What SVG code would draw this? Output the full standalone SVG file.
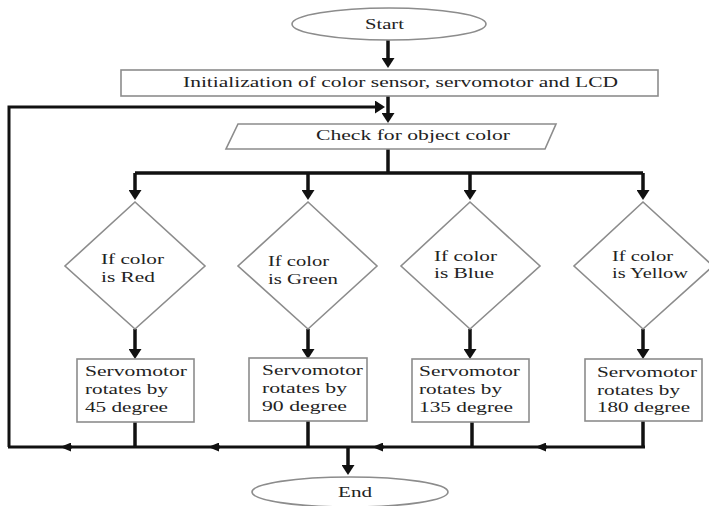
<svg xmlns="http://www.w3.org/2000/svg" width="709" height="506" viewBox="0 0 709 506">
<style>
.shape{fill:#fff;stroke:#8c8c8c;stroke-width:1.6}
.t{font-family:"Liberation Serif","Times New Roman",serif;font-size:15px;fill:#222}
.c{fill:none;stroke:#111;stroke-width:3.5;stroke-linejoin:miter}
.thin{fill:none;stroke:#111;stroke-width:3}
</style>
<defs>
<marker id="ah" viewBox="0 0 10 10" refX="2" refY="5" markerWidth="10" markerHeight="13" markerUnits="userSpaceOnUse" orient="auto" preserveAspectRatio="none">
<path d="M0,0 L10,5 L0,10 z" fill="#111"/>
</marker>
<marker id="sm" viewBox="0 0 10 10" refX="2" refY="5" markerWidth="11" markerHeight="9" markerUnits="userSpaceOnUse" orient="auto" preserveAspectRatio="none">
<path d="M0,0 L10,5 L0,10 z" fill="#111"/>
</marker>
</defs>
<rect width="709" height="506" fill="#fff"/>

<g id="connectors">
<path class="c" d="M388 40 V60" marker-end="url(#ah)"/>
<path class="c" d="M388 96 V115" marker-end="url(#ah)"/>
<path class="thin" d="M9 447 V107 H377" marker-end="url(#ah)"/>
<path class="c" d="M388 149 V173"/>
<path class="c" d="M135 173 H643"/>
<path class="c" d="M135 173 V192" marker-end="url(#ah)"/>
<path class="c" d="M308 173 V192" marker-end="url(#ah)"/>
<path class="c" d="M470 173 V192" marker-end="url(#ah)"/>
<path class="c" d="M643 173 V192" marker-end="url(#ah)"/>
<path class="c" d="M135 329 V351" marker-end="url(#ah)"/>
<path class="c" d="M308 329 V351" marker-end="url(#ah)"/>
<path class="c" d="M470 329 V351" marker-end="url(#ah)"/>
<path class="c" d="M643 329 V351" marker-end="url(#ah)"/>
<path class="c" d="M135 422 V447"/>
<path class="c" d="M308 421 V447"/>
<path class="c" d="M472 422 V447"/>
<path class="c" d="M643 421 V447"/>
<path class="thin" d="M8 447 H645"/>
<path class="thin" d="M72 447 H69" marker-end="url(#sm)"/>
<path class="thin" d="M220 447 H217" marker-end="url(#sm)"/>
<path class="thin" d="M384 447 H381" marker-end="url(#sm)"/>
<path class="thin" d="M547 447 H544" marker-end="url(#sm)"/>
<path class="c" d="M348 447 V467" marker-end="url(#ah)"/>
</g>

<g id="start">
<ellipse class="shape" cx="389" cy="24" rx="97" ry="16"/>
<text class="t" x="365" y="29" textLength="39" lengthAdjust="spacingAndGlyphs">Start</text>
</g>

<g id="init">
<rect class="shape" x="121" y="70" width="537" height="26"/>
<text class="t" x="183" y="87" textLength="435" lengthAdjust="spacingAndGlyphs">Initialization of color sensor, servomotor and LCD</text>
</g>

<g id="check">
<polygon class="shape" points="238,124 556,124 545,149 226,149"/>
<text class="t" x="316" y="140" textLength="194" lengthAdjust="spacingAndGlyphs">Check for object color</text>
</g>

<g id="dec-red">
<polygon class="shape" points="135,202 205,266 135,329 65,266"/>
<text class="t" x="101" y="264" textLength="63" lengthAdjust="spacingAndGlyphs">If color</text>
<text class="t" x="101" y="282" textLength="54" lengthAdjust="spacingAndGlyphs">is Red</text>
</g>

<g id="dec-green">
<polygon class="shape" points="308,202 377,266 308,329 238,266"/>
<text class="t" x="268" y="266" textLength="61" lengthAdjust="spacingAndGlyphs">If color</text>
<text class="t" x="268" y="284" textLength="70" lengthAdjust="spacingAndGlyphs">is Green</text>
</g>

<g id="dec-blue">
<polygon class="shape" points="470,202 540,266 470,329 401,266"/>
<text class="t" x="434" y="261" textLength="63" lengthAdjust="spacingAndGlyphs">If color</text>
<text class="t" x="434" y="278" textLength="60" lengthAdjust="spacingAndGlyphs">is Blue</text>
</g>

<g id="dec-yellow">
<polygon class="shape" points="643,202 713,266 643,329 574,266"/>
<text class="t" x="612" y="261" textLength="61" lengthAdjust="spacingAndGlyphs">If color</text>
<text class="t" x="612" y="278" textLength="76" lengthAdjust="spacingAndGlyphs">is Yellow</text>
</g>

<g id="act-45">
<rect class="shape" x="77" y="359" width="117" height="63"/>
<text class="t" x="85" y="376" textLength="102" lengthAdjust="spacingAndGlyphs">Servomotor</text>
<text class="t" x="85" y="394" textLength="83" lengthAdjust="spacingAndGlyphs">rotates by</text>
<text class="t" x="85" y="412" textLength="83" lengthAdjust="spacingAndGlyphs">45 degree</text>
</g>

<g id="act-90">
<rect class="shape" x="249" y="358" width="118" height="63"/>
<text class="t" x="262" y="375" textLength="101" lengthAdjust="spacingAndGlyphs">Servomotor</text>
<text class="t" x="262" y="393" textLength="85" lengthAdjust="spacingAndGlyphs">rotates by</text>
<text class="t" x="262" y="411" textLength="85" lengthAdjust="spacingAndGlyphs">90 degree</text>
</g>

<g id="act-135">
<rect class="shape" x="412" y="359" width="117" height="63"/>
<text class="t" x="419" y="376" textLength="101" lengthAdjust="spacingAndGlyphs">Servomotor</text>
<text class="t" x="419" y="394" textLength="83" lengthAdjust="spacingAndGlyphs">rotates by</text>
<text class="t" x="419" y="412" textLength="94" lengthAdjust="spacingAndGlyphs">135 degree</text>
</g>

<g id="act-180">
<rect class="shape" x="585" y="359" width="117" height="62"/>
<text class="t" x="597" y="377" textLength="100" lengthAdjust="spacingAndGlyphs">Servomotor</text>
<text class="t" x="597" y="395" textLength="83" lengthAdjust="spacingAndGlyphs">rotates by</text>
<text class="t" x="597" y="412" textLength="93" lengthAdjust="spacingAndGlyphs">180 degree</text>
</g>

<g id="end">
<ellipse class="shape" cx="350" cy="492" rx="98" ry="15"/>
<text class="t" x="338" y="497" textLength="34" lengthAdjust="spacingAndGlyphs">End</text>
</g>
</svg>
